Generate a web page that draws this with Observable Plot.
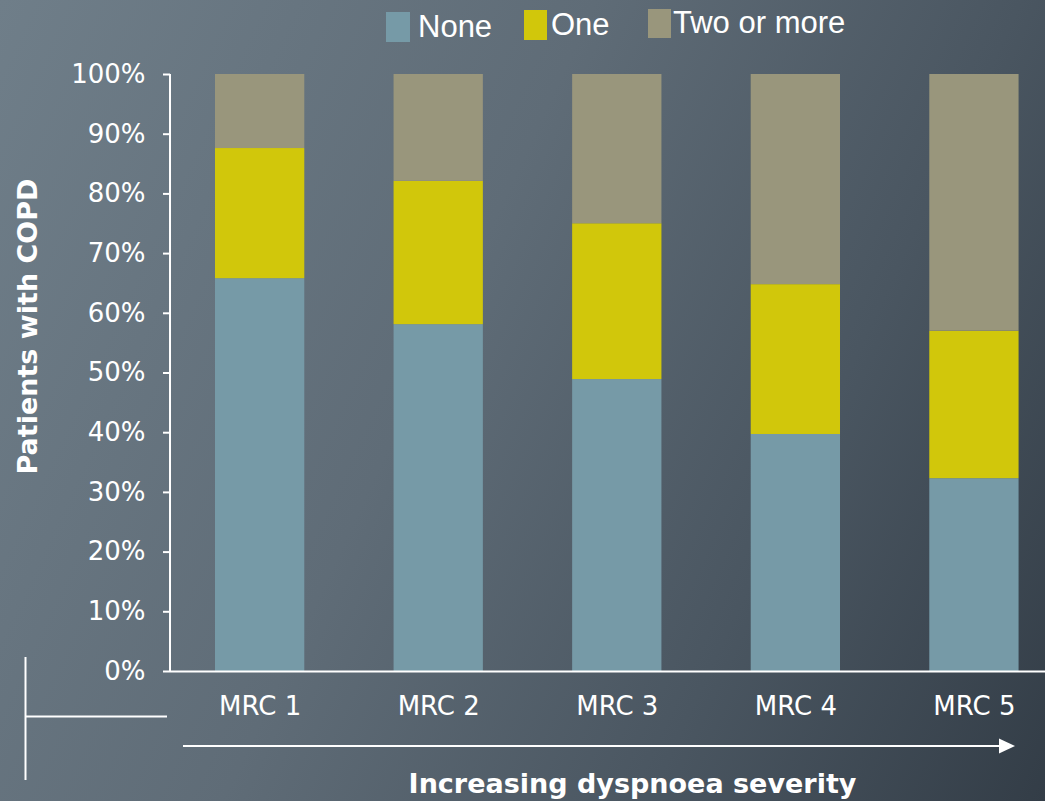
<!DOCTYPE html>
<html>
<head>
<meta charset="utf-8">
<script src="https://cdn.jsdelivr.net/npm/d3@7"></script>
<script src="https://cdn.jsdelivr.net/npm/@observablehq/plot@0.6"></script>
<style>
  html, body { margin: 0; padding: 0; }
  #wrap {
    position: relative; width: 1045px; height: 801px; overflow: hidden;
    background: linear-gradient(115deg, #6f7e89 0%, #5f6c77 42%, #4a5661 72%, #333d47 100%);
    color: white;
  }
  #chart { position: absolute; left: 0; top: 0; }
  .lg { position: absolute; font-family: "Liberation Sans", Arial, sans-serif; font-size: 31px; color: white; white-space: nowrap; }
  .sw { position: absolute; }
</style>
</head>
<body>
<div id="wrap"><div id="chart"></div></div>
<script>
// ---- data ----
const stages = ["MRC 1", "MRC 2", "MRC 3", "MRC 4", "MRC 5"];
const categories = ["None", "One", "Two or more"];
const noneValues = [65.8, 58.1, 48.9, 39.7, 32.3];
const oneValues = [21.8, 24.0, 26.1, 25.1, 24.7];
const twoValues = [12.4, 17.9, 25.0, 35.2, 43.0];
const yTicks = [0, 10, 20, 30, 40, 50, 60, 70, 80, 90, 100];
const colors = ["#769aa7", "#d1c70b", "#99967c"];
const yTitle = "Patients with COPD";
const xTitle = "Increasing dyspnoea severity";

const series = [noneValues, oneValues, twoValues];
const data = [];
categories.forEach((c, ci) => stages.forEach((s, si) => data.push({stage: s, category: c, value: series[ci][si]})));

const plot = Plot.plot({
  width: 1045,
  height: 801,
  marginTop: 74,
  marginBottom: 130,
  marginLeft: 170,
  marginRight: 0,
  style: {background: "transparent", color: "white", fontFamily: "'DejaVu Sans', sans-serif", overflow: "visible"},
  x: {domain: stages, paddingInner: 0.5, paddingOuter: 0.2, align: 0.63, round: false, label: null},
  y: {domain: [0, 100], label: null},
  color: {domain: categories, range: colors},
  marks: [
    Plot.barY(data, {x: "stage", y: "value", fill: "category", order: categories}),
    Plot.ruleY([0], {stroke: "white", strokeWidth: 2}),
    Plot.axisY({ticks: yTicks, tickFormat: d => d + "%", tickSize: 7, tickPadding: 18, fontSize: 26, strokeWidth: 2, label: null}),
    Plot.axisX({tickSize: 0, tickPadding: 25, fontSize: 26, label: null})
  ]
});
document.getElementById("chart").appendChild(plot);

// decorations
const svg = d3.select(plot);
const ys = plot.scale("y");
const left = 170;
svg.append("line").attr("x1", left).attr("x2", left).attr("y1", ys.range[1]).attr("y2", ys.range[0])
  .attr("stroke", "white").attr("stroke-width", 2);
// corner bracket
svg.append("line").attr("x1", 25.5).attr("x2", 25.5).attr("y1", 657).attr("y2", 780).attr("stroke", "white").attr("stroke-width", 2);
svg.append("line").attr("x1", 25).attr("x2", 167).attr("y1", 716.5).attr("y2", 716.5).attr("stroke", "white").attr("stroke-width", 2);
// arrow
svg.append("line").attr("x1", 183).attr("x2", 1001).attr("y1", 746).attr("y2", 746).attr("stroke", "white").attr("stroke-width", 2);
svg.append("path").attr("d", "M999,738.5 L1015,746 L999,753.5 Z").attr("fill", "white");
// titles
svg.append("text").text(xTitle).attr("x", 632.5).attr("y", 793).attr("text-anchor", "middle")
  .attr("font-family", "'DejaVu Sans', sans-serif").attr("font-weight", "bold").attr("font-size", 27).attr("fill", "white");
svg.append("text").text(yTitle).attr("transform", "translate(37,326.5) rotate(-90)").attr("text-anchor", "middle")
  .attr("font-family", "'DejaVu Sans', sans-serif").attr("font-weight", "bold").attr("font-size", 27).attr("fill", "white");

// legend
const wrap = document.getElementById("wrap");
const legendPos = [
  {sx: 386, sy: 12, sw: 24, sh: 30, tx: 418, ty: 9},
  {sx: 524, sy: 10, sw: 23, sh: 30, tx: 551, ty: 7},
  {sx: 648, sy: 9, sw: 23, sh: 29, tx: 673, ty: 5}
];
categories.forEach((c, i) => {
  const p = legendPos[i];
  const sw = document.createElement("div");
  sw.className = "sw";
  Object.assign(sw.style, {left: p.sx + "px", top: p.sy + "px", width: p.sw + "px", height: p.sh + "px", background: colors[i]});
  wrap.appendChild(sw);
  const t = document.createElement("div");
  t.className = "lg";
  t.textContent = c;
  Object.assign(t.style, {left: p.tx + "px", top: p.ty + "px"});
  wrap.appendChild(t);
});
</script>
</body>
</html>
